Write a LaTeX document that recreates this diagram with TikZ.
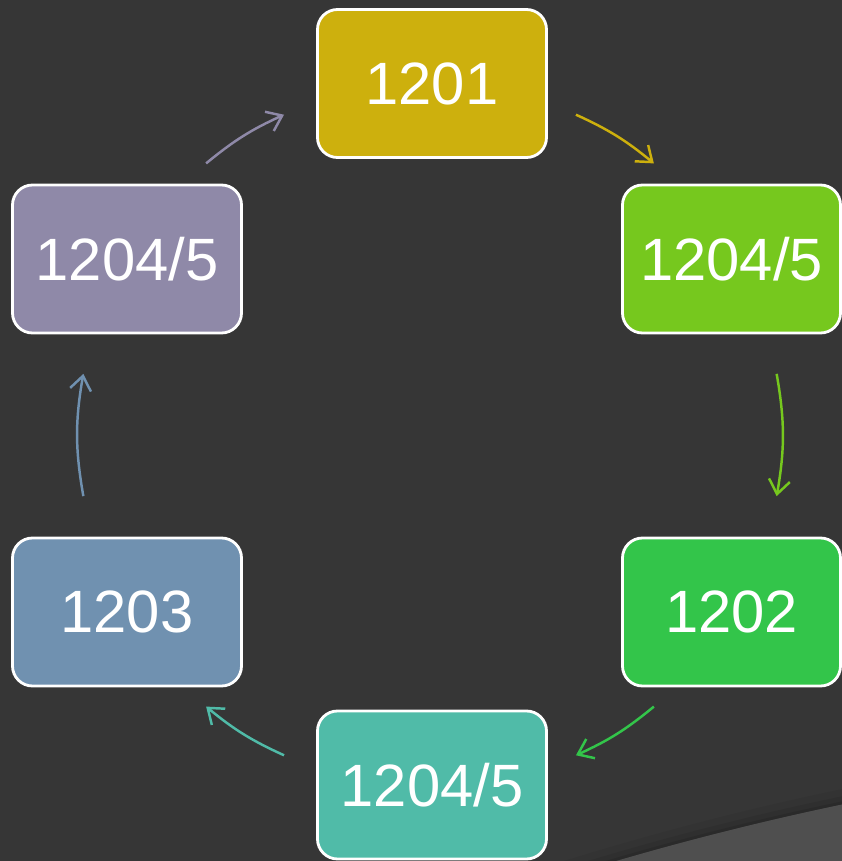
\documentclass[tikz,border=0pt]{standalone}
\usepackage{fontspec}
\setmainfont{Liberation Sans}
\usepackage{tikz}
\usetikzlibrary{calc,positioning,arrows.meta}

\definecolor{bgdark}{HTML}{363636}
\definecolor{bglight}{HTML}{4F4F4F}
\definecolor{cyel}{HTML}{CDB00D}
\definecolor{clime}{HTML}{76C81E}
\definecolor{cgrn}{HTML}{33C54A}
\definecolor{cteal}{HTML}{50BBA8}
\definecolor{cblue}{HTML}{7091B0}
\definecolor{cpurp}{HTML}{8F89A8}

\begin{document}
\begin{tikzpicture}[blk/.style={draw=white, line width=1.6pt, rounded corners=0.4cm, text=white,
    minimum width=4.58cm, minimum height=2.96cm, font=\fontsize{34}{40}\selectfont},
  arr/.style={line width=1.4pt, -{Straight Barb[length=8pt,width=12pt]}}]
\useasboundingbox (0,0) rectangle (16.84,17.22);
\fill[bgdark] (0,0) rectangle (16.84,17.22);
\begin{scope}
\clip (0,0) rectangle (16.84,17.22);
\draw[black, opacity=0.05, line width=0.3cm] (29.18,-57.6) circle (60.15);
\draw[black, opacity=0.08, line width=0.16cm] (29.18,-57.6) circle (60.08);
\draw[black, opacity=0.10, line width=0.06cm] (29.18,-57.6) circle (60.03);
\fill[bglight] (29.18,-57.6) circle (60);
\end{scope}

\node[blk, fill=cyel] (T) at (8.64,15.55) {1201};
\node[blk, fill=clime, minimum width=4.36cm] (RT) at (14.63,12.04) {1204/5};
\node[blk, fill=cgrn, minimum width=4.36cm] (RB) at (14.63,4.98) {1202};
\node[blk, fill=cteal] (B) at (8.64,1.52) {1204/5};
\node[blk, fill=cblue] (LB) at (2.54,4.98) {1203};
\node[blk, fill=cpurp] (LT) at (2.54,12.04) {1204/5};

% arrow ends on the ring
\coordinate (ctr) at (8.6,8.52);
\coordinate (a1) at ($(ctr)+(65.5:7.04)$);  \coordinate (a2) at ($(ctr)+(50.5:7.04)$);
\coordinate (b1) at ($(ctr)+(10:7.04)$);    \coordinate (b2) at ($(ctr)+(-10:7.04)$);
\coordinate (c1) at ($(ctr)+(-50.5:7.04)$); \coordinate (c2) at ($(ctr)+(-65.5:7.04)$);
\coordinate (d1) at ($(ctr)+(-114.5:7.04)$);\coordinate (d2) at ($(ctr)+(-129.5:7.04)$);
\coordinate (e1) at ($(ctr)+(190:7.04)$);   \coordinate (e2) at ($(ctr)+(170:7.04)$);
\coordinate (f1) at ($(ctr)+(129.5:7.04)$); \coordinate (f2) at ($(ctr)+(114.5:7.04)$);

\draw[arr, cyel] (a1) to[bend left=7.5] (a2);
\draw[arr, clime] (b1) to[bend left=10] (b2);
\draw[arr, cgrn] (c1) to[bend left=7.5] (c2);
\draw[arr, cteal] (d1) to[bend left=7.5] (d2);
\draw[arr, cblue] (e1) to[bend left=10] (e2);
\draw[arr, cpurp] (f1) to[bend left=7.5] (f2);
\end{tikzpicture}
\end{document}
